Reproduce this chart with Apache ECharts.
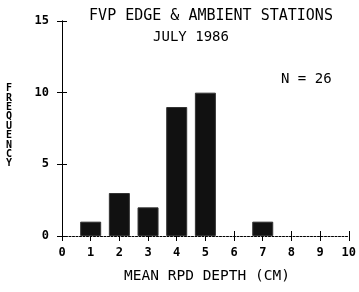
<!DOCTYPE html>
<html><head><meta charset="utf-8">
<script src="https://cdn.jsdelivr.net/npm/echarts@6/dist/echarts.min.js"></script>
<style>html,body{margin:0;padding:0;background:#fff}#c{width:359px;height:292px}</style>
</head><body><div id="c"></div>
<script>
var depths = [1, 2, 3, 4, 5, 6, 7];
var freqs = [1, 3, 2, 9, 10, 0, 1];
var yTicks = [0, 5, 10, 15];
var titleText = "FVP EDGE & AMBIENT STATIONS";
var subText = "JULY 1986";
var nText = "N = 26";
var xName = "MEAN RPD DEPTH (CM)";
var yName = "FREQUENCY";

var font = "DejaVu Sans Mono";
var chart = echarts.init(document.getElementById('c'));
var barData = depths.map(function(d, i){ return [d, freqs[i]]; }).filter(function(p){return p[1] > 0;});
function xAx(inside, show){
  return {type:'value', min:0, max:10, interval:1, position:'bottom',
    axisLine:{show:show, lineStyle:{color:'#000', type:[2,1.5], width:1}},
    axisTick:{show:true, inside:inside, length:5, lineStyle:{color:'#000', width:1}},
    axisLabel:{show:show, color:'#000', fontFamily:font, fontSize:12, fontWeight:'bold', margin:11},
    splitLine:{show:false}};
}
function yAx(inside, show){
  return {type:'value', min:0, max:15, interval:5, position:'left',
    axisLine:{show:true, lineStyle:{color:'#000', width:1}},
    axisTick:{show:true, inside:inside, length:5, lineStyle:{color:'#000', width:1}},
    axisLabel:{show:show, color:'#000', fontFamily:font, fontSize:12, fontWeight:'bold', margin:13},
    splitLine:{show:false}};
}
function txt(s, x, y, size, align, extra){
  var st = {text:s, x:x, y:y, fill:'#000', font:'normal ' + size + 'px "' + font + '"', textAlign:align, textVerticalAlign:'middle'};
  if (extra) for (var k in extra) st[k] = extra[k];
  return {type:'text', style:st};
}
chart.setOption({
  backgroundColor:'#fff',
  animation:false,
  graphic:[
    txt(titleText, 211, 16, 15, 'center'),
    txt(subText, 191, 37, 14, 'center'),
    txt(nText, 281, 79, 14, 'left'),
    txt(xName, 207, 276, 14.5, 'center'),
    {type:'text', style:{text:yName.split('').join('\n'), x:6, y:84, fill:'#000', font:'bold 10px "' + font + '"', lineHeight:9.4, textAlign:'left', textVerticalAlign:'top'}}
  ],
  grid:{left:62, right:4, top:21, bottom:56},
  xAxis:[xAx(false, true), xAx(true, false)],
  yAxis:[yAx(false, true), yAx(true, false)],
  series:[{type:'bar', xAxisIndex:0, yAxisIndex:0, data:barData, barWidth:21,
    itemStyle:{color:'#111', borderColor:'#333', borderWidth:1}}]
});
</script></body></html>
